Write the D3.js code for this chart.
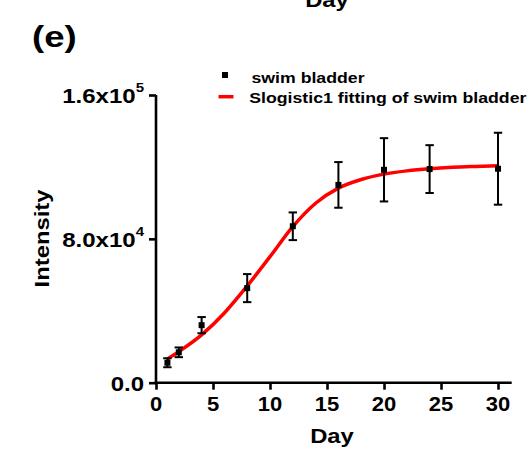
<!DOCTYPE html>
<html>
<head>
<meta charset="utf-8">
<script src="https://cdn.jsdelivr.net/npm/d3@7/dist/d3.min.js"></script>
<style>
  html, body { margin: 0; padding: 0; background: #fff; }
  svg { display: block; }
  text { font-family: "Liberation Sans", Arial, sans-serif; font-weight: bold; fill: #000; }
</style>
</head>
<body>
<svg id="chart" width="529" height="460"></svg>
<script>
// ---- data ----
const days = [1, 2, 4, 8, 12, 16, 20, 24, 30];
const intensity = [11100, 16900, 32000, 52600, 87000, 110000, 118400, 118800, 119000];
const errors = [2500, 2700, 4500, 7800, 7700, 12700, 17600, 13300, 20000];

const fitDays = [1, 2, 4, 6, 8, 10, 12, 14, 16, 18, 20, 22, 24, 26, 28, 30];
const fitValues = [13200, 17300, 26600, 38800, 53800, 70100, 86800, 99800, 108200, 113000, 116000, 117800, 119000, 119800, 120300, 120700];

const xTickValues = [0, 5, 10, 15, 20, 25, 30];
const yTickValues = [0, 80000, 160000];
const yTickBase = ["0.0", "8.0x10", "1.6x10"];
const yTickExp = ["", "4", "5"];

const legendLabels = ["swim bladder", "Slogistic1 fitting of swim bladder"];

// ---- layout ----
const svg = d3.select("#chart");
const x = d3.scaleLinear().domain([0, 31.2]).range([156, 511.7]);
const y = d3.scaleLinear().domain([0, 160000]).range([382.7, 95]);

// stretched text helper
function stext(g, tx, ty, sx, str, size, anchor, rot) {
  const grp = g.append("g")
    .attr("transform", `translate(${tx},${ty})` + (rot ? ` rotate(${rot})` : "") + ` scale(${sx},1)`);
  const t = grp.append("text")
    .attr("font-size", size)
    .attr("text-anchor", anchor || "start")
    .text(str);
  return t;
}

// panel label and cut-off title from upper panel
stext(svg, 32, 46.7, 1.22, "(e)", 30, "start");
stext(svg, 327, 6.5, 1.19, "Day", 20, "middle");

// axes
const xAxis = d3.axisBottom(x).tickValues(xTickValues).tickFormat("").tickSize(7).tickSizeOuter(0);
const gx = svg.append("g").attr("transform", `translate(0,${y(0)})`).call(xAxis);
gx.select(".domain").attr("stroke", "#000").attr("stroke-width", 2.6).attr("d", `M${x(0) - 1.5},0H${x(31.2)}`);
gx.selectAll(".tick line").attr("stroke", "#000").attr("stroke-width", 2.6);

const yAxis = d3.axisLeft(y).tickValues(yTickValues).tickFormat("").tickSize(7).tickSizeOuter(0);
const gy = svg.append("g").attr("transform", `translate(${x(0)},0)`).call(yAxis);
gy.select(".domain").attr("stroke", "#000").attr("stroke-width", 2.6).attr("d", `M0,${y(0) + 1.3}V${y(160000)}`);
gy.selectAll(".tick line").attr("stroke", "#000").attr("stroke-width", 2.6);

// x tick labels
xTickValues.forEach(v => {
  stext(svg, x(v), 411, 1.1, String(v), 20, "middle");
});

// y tick labels
yTickValues.forEach((v, i) => {
  const grp = svg.append("g").attr("transform", `translate(144,${y(v) + 8}) scale(1.2,1)`);
  const t = grp.append("text").attr("font-size", 20).attr("text-anchor", "end");
  t.append("tspan").text(yTickBase[i]);
  if (yTickExp[i]) {
    t.append("tspan").attr("font-size", 12.5).attr("dy", -11).text(yTickExp[i]);
  }
});

// axis titles
stext(svg, 332, 443, 1.19, "Day", 20, "middle");
stext(svg, 49, 238.5, 1.19, "Intensity", 20, "middle", -90);

// fitted curve
const line = d3.line().x((d, i) => x(fitDays[i])).y(d => y(d)).curve(d3.curveMonotoneX);
svg.append("path")
  .datum(fitValues)
  .attr("d", line)
  .attr("fill", "none")
  .attr("stroke", "#ff0000")
  .attr("stroke-width", 3.5);

// error bars
const eb = svg.append("g").attr("stroke", "#000").attr("stroke-width", 2);
days.forEach((d, i) => {
  const cx = x(d), top = y(intensity[i] + errors[i]), bot = y(intensity[i] - errors[i]);
  eb.append("line").attr("x1", cx).attr("x2", cx).attr("y1", top).attr("y2", bot);
  eb.append("line").attr("x1", cx - 4.2).attr("x2", cx + 4.2).attr("y1", top).attr("y2", top);
  eb.append("line").attr("x1", cx - 4.2).attr("x2", cx + 4.2).attr("y1", bot).attr("y2", bot);
});

// markers
svg.append("g").selectAll("rect").data(intensity).join("rect")
  .attr("x", (d, i) => x(days[i]) - 3)
  .attr("y", d => y(d) - 3)
  .attr("width", 6).attr("height", 6)
  .attr("fill", "#000");

// legend
svg.append("rect").attr("x", 222).attr("y", 72).attr("width", 6).attr("height", 6).attr("fill", "#000");
stext(svg, 251.5, 82.7, 1.18, legendLabels[0], 15, "start");
svg.append("line").attr("x1", 218.5).attr("x2", 233.5).attr("y1", 96.7).attr("y2", 96.7)
  .attr("stroke", "#ff0000").attr("stroke-width", 3.5);
stext(svg, 249.3, 103.3, 1.18, legendLabels[1], 15, "start");
</script>
</body>
</html>
